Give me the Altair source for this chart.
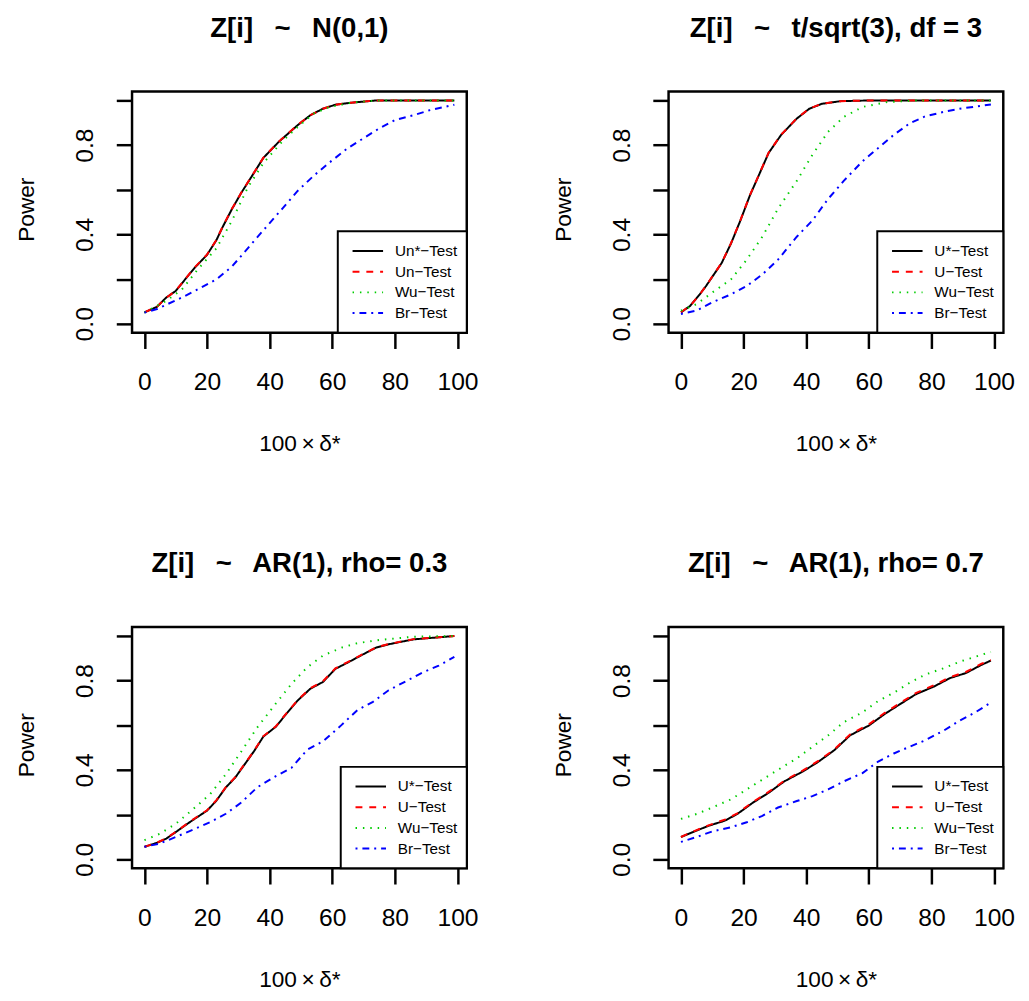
import altair as alt
import pandas as pd

# ---------------- data ----------------
NAMES_P1 = ["Un*\u2212Test", "Un\u2212Test", "Wu\u2212Test", "Br\u2212Test"]
NAMES = ["U*\u2212Test", "U\u2212Test", "Wu\u2212Test", "Br\u2212Test"]
COLORS = ["#000000", "#FF0000", "#00CD00", "#0000FF"]
DASHES = [[1, 0], [7, 7], [1.5, 6], [2, 5, 7, 5]]

SP = "\u2002 "
TITLES = ["Z[i]" + SP + "~" + SP + "N(0,1)",
          "Z[i]" + SP + "~" + SP + "t/sqrt(3), df = 3",
          "Z[i]" + SP + "~" + SP + "AR(1), rho= 0.3",
          "Z[i]" + SP + "~" + SP + "AR(1), rho= 0.7"]
X_TITLE = "100\u2009\u00d7\u2009\u03b4*"
Y_TITLE = "Power"

# Panel 1: N(0,1)
p1_x_star = [0, 4, 7, 10, 13, 16, 20, 23, 25, 28, 31, 35, 38, 43, 46, 49, 53, 57, 61, 66, 74, 99]
p1_y_star = [0.051, 0.076, 0.118, 0.147, 0.199, 0.25, 0.309, 0.375, 0.434, 0.515, 0.588, 0.676,
             0.743, 0.816, 0.853, 0.89, 0.934, 0.963, 0.981, 0.99, 1.0, 1.0]
p1_x_u = [0, 4, 7, 10, 13, 16, 20, 23, 25, 28, 31, 35, 38, 43, 46, 49, 53, 57, 61, 66, 74, 99]
p1_y_u = [0.051, 0.077, 0.117, 0.148, 0.2, 0.252, 0.31, 0.376, 0.436, 0.516, 0.589, 0.677,
          0.744, 0.817, 0.854, 0.891, 0.934, 0.963, 0.981, 0.99, 1.0, 1.0]
p1_x_wu = [0, 7, 12, 17, 23, 28, 33, 38, 44, 49, 54, 59, 66, 74, 99]
p1_y_wu = [0.05, 0.103, 0.154, 0.243, 0.338, 0.463, 0.61, 0.72, 0.816, 0.882, 0.941, 0.97, 0.99, 1.0, 1.0]
p1_x_br = [0, 4, 12, 17, 23, 28, 33, 38, 44, 49, 54, 59, 65, 70, 75, 80, 86, 91, 99]
p1_y_br = [0.05, 0.066, 0.118, 0.154, 0.199, 0.257, 0.338, 0.419, 0.515, 0.596, 0.662, 0.721,
           0.787, 0.831, 0.875, 0.912, 0.934, 0.956, 0.981]

# Panel 2: t/sqrt(3)
p2_x_star = [0, 3, 6, 8, 13, 16, 19, 22, 25, 28, 32, 37, 41, 45, 51, 60, 99]
p2_y_star = [0.051, 0.081, 0.132, 0.169, 0.272, 0.36, 0.463, 0.574, 0.669, 0.765, 0.846, 0.919,
             0.963, 0.985, 0.997, 1.0, 1.0]
p2_x_u = [0, 3, 6, 8, 13, 16, 19, 22, 25, 28, 32, 37, 41, 45, 51, 60, 99]
p2_y_u = [0.052, 0.082, 0.131, 0.17, 0.273, 0.361, 0.464, 0.575, 0.67, 0.766, 0.847, 0.92,
          0.964, 0.985, 0.997, 1.0, 1.0]
p2_x_wu = [0, 5, 10, 16, 21, 26, 31, 37, 42, 47, 52, 58, 66, 75, 99]
p2_y_wu = [0.059, 0.088, 0.14, 0.199, 0.287, 0.39, 0.515, 0.64, 0.757, 0.86, 0.926, 0.971, 0.993, 1.0, 1.0]
p2_x_br = [0, 5, 10, 16, 21, 26, 31, 37, 42, 47, 52, 58, 63, 68, 73, 78, 84, 89, 99]
p2_y_br = [0.044, 0.059, 0.096, 0.132, 0.169, 0.221, 0.287, 0.39, 0.463, 0.559, 0.64, 0.728,
           0.787, 0.846, 0.897, 0.929, 0.949, 0.963, 0.982]

# Panel 3: AR(1), rho = 0.3
p3_x_star = [0, 4, 7, 10, 13, 16, 20, 23, 26, 29, 32, 35, 38, 42, 45, 49, 53, 57, 61, 66, 70, 74, 78, 86, 99]
p3_y_star = [0.056, 0.074, 0.093, 0.122, 0.152, 0.181, 0.218, 0.263, 0.322, 0.366, 0.425, 0.484,
             0.55, 0.594, 0.646, 0.712, 0.764, 0.794, 0.853, 0.889, 0.919, 0.948, 0.963, 0.985, 1.0]
p3_x_u = [0, 4, 7, 10, 13, 16, 20, 23, 26, 29, 32, 35, 38, 42, 45, 49, 53, 57, 61, 66, 70, 74, 78, 86, 99]
p3_y_u = [0.056, 0.075, 0.094, 0.123, 0.153, 0.183, 0.22, 0.265, 0.323, 0.368, 0.427, 0.486,
          0.552, 0.596, 0.648, 0.714, 0.766, 0.797, 0.855, 0.891, 0.92, 0.949, 0.964, 0.986, 1.0]
p3_x_wu = [0, 5, 10, 15, 21, 26, 31, 36, 42, 47, 52, 57, 63, 68, 75, 86, 99]
p3_y_wu = [0.086, 0.115, 0.159, 0.218, 0.292, 0.381, 0.484, 0.59, 0.698, 0.786, 0.86, 0.912,
           0.948, 0.968, 0.982, 0.997, 1.0]
p3_x_br = [0, 5, 10, 15, 21, 26, 31, 36, 42, 47, 52, 57, 63, 68, 73, 78, 84, 89, 94, 99]
p3_y_br = [0.056, 0.071, 0.1, 0.13, 0.167, 0.204, 0.255, 0.322, 0.373, 0.41, 0.491, 0.528,
           0.602, 0.668, 0.705, 0.757, 0.801, 0.838, 0.867, 0.907]

# Panel 4: AR(1), rho = 0.7
p4_x_star = [0, 5, 9, 14, 18, 23, 28, 33, 39, 44, 49, 54, 60, 65, 70, 75, 81, 86, 91, 96, 99]
p4_y_star = [0.1, 0.129, 0.151, 0.173, 0.203, 0.254, 0.298, 0.349, 0.394, 0.438, 0.489, 0.555,
             0.599, 0.65, 0.695, 0.739, 0.775, 0.812, 0.834, 0.871, 0.89]
p4_x_u = [0, 5, 9, 14, 18, 23, 28, 33, 39, 44, 49, 54, 60, 65, 70, 75, 81, 86, 91, 96, 99]
p4_y_u = [0.1, 0.131, 0.153, 0.178, 0.206, 0.257, 0.302, 0.352, 0.398, 0.442, 0.492, 0.559,
          0.604, 0.655, 0.7, 0.744, 0.781, 0.816, 0.839, 0.876, 0.892]
p4_x_wu = [0, 5, 10, 16, 21, 26, 31, 37, 42, 47, 52, 58, 63, 68, 73, 78, 84, 89, 94, 99]
p4_y_wu = [0.181, 0.203, 0.232, 0.269, 0.313, 0.357, 0.401, 0.452, 0.504, 0.555, 0.614, 0.658,
           0.709, 0.746, 0.79, 0.827, 0.856, 0.885, 0.907, 0.929]
p4_x_br = [0, 5, 10, 16, 21, 26, 31, 37, 42, 47, 52, 58, 63, 68, 73, 78, 84, 89, 94, 99]
p4_y_br = [0.078, 0.1, 0.125, 0.144, 0.166, 0.195, 0.232, 0.261, 0.283, 0.313, 0.349, 0.386,
           0.438, 0.474, 0.504, 0.533, 0.577, 0.621, 0.658, 0.702]

X_TICKS = [0, 20, 40, 60, 80, 100]
Y_TICKS = [0.0, 0.2, 0.4, 0.6, 0.8, 1.0]

FONT = "Liberation Sans"
W, H = 340, 245


def panel(title, names, xs, ys):
    rows = []
    for name, xv, yv in zip(names, xs, ys):
        for a, b in zip(xv, yv):
            rows.append({"series": name, "x": a, "y": b})
    df = pd.DataFrame(rows)

    leg = alt.Legend(
        title=None, orient="bottom-right", offset=0, padding=9.5,
        strokeColor="black", fillColor="white",
        symbolType="stroke", symbolSize=961, symbolStrokeWidth=2,
        clipHeight=21, rowPadding=0, symbolOffset=4.5, labelOffset=11,
        labelFontSize=15.5, labelFont=FONT, labelColor="black",
    )
    color = alt.Color("series:N", scale=alt.Scale(domain=names, range=COLORS), legend=leg)
    dash = alt.StrokeDash("series:N", scale=alt.Scale(domain=names, range=DASHES), legend=leg)

    xenc = alt.X("x:Q", scale=alt.Scale(domain=[-3.96, 102.96], nice=False, zero=False),
                 axis=alt.Axis(values=X_TICKS, title=X_TITLE, grid=False, domain=False,
                               tickSize=16, tickWidth=2.5, tickColor="black",
                               labelFontSize=25, labelFont=FONT, labelColor="black",
                               labelBaseline="alphabetic", labelPadding=42, labelFlush=False,
                               labelOverlap=False,
                               titleFontSize=23, titleFont=FONT, titleFontWeight="normal",
                               titleColor="black", titleBaseline="alphabetic",
                               titleX=W / 2, titleY=120, titleAlign="center"))
    yenc = alt.Y("y:Q", scale=alt.Scale(domain=[-0.04, 1.04], nice=False, zero=False),
                 axis=alt.Axis(values=Y_TICKS, title=Y_TITLE, grid=False, domain=False,
                               tickSize=16, tickWidth=2.5, tickColor="black",
                               labelExpr="(abs(datum.value) < 0.001 || abs(datum.value - 0.4) < 0.001 || abs(datum.value - 0.8) < 0.001) ? format(datum.value, '.1f') : ''",
                               labelFontSize=25, labelFont=FONT, labelColor="black",
                               labelAngle=270, labelAlign="center", labelBaseline="alphabetic",
                               labelPadding=24, labelFlush=False, labelOverlap=False,
                               titleFontSize=23, titleFont=FONT, titleFontWeight="normal",
                               titleColor="black", titleAngle=270, titleBaseline="alphabetic",
                               titleX=-100, titleY=H / 2 - 3, titleAlign="center"))

    base = alt.Chart(df).encode(x=xenc, y=yenc, color=color, strokeDash=dash)
    layers = [base.transform_filter(alt.datum.series == n).mark_line(strokeWidth=2)
              for n in names]
    return alt.layer(*layers).properties(
        width=W, height=H,
        title=alt.TitleParams(title, fontSize=28, font=FONT, fontWeight="bold", color="black",
                              anchor="middle", frame="group", offset=27.5, baseline="alphabetic"),
    )


p1 = panel(TITLES[0], NAMES_P1, [p1_x_star, p1_x_u, p1_x_wu, p1_x_br],
           [p1_y_star, p1_y_u, p1_y_wu, p1_y_br])
p2 = panel(TITLES[1], NAMES, [p2_x_star, p2_x_u, p2_x_wu, p2_x_br],
           [p2_y_star, p2_y_u, p2_y_wu, p2_y_br])
p3 = panel(TITLES[2], NAMES, [p3_x_star, p3_x_u, p3_x_wu, p3_x_br],
           [p3_y_star, p3_y_u, p3_y_wu, p3_y_br])
p4 = panel(TITLES[3], NAMES, [p4_x_star, p4_x_u, p4_x_wu, p4_x_br],
           [p4_y_star, p4_y_u, p4_y_wu, p4_y_br])

ind = dict(color="independent", strokeDash="independent", x="independent", y="independent")
chart = (
    alt.concat(p1, p2, p3, p4, columns=2, spacing={"row": 299, "column": 205}, bounds="flush")
    .resolve_scale(**ind)
    .properties(padding={"left": 6, "top": -2, "right": 5, "bottom": 2}, background="white")
    .configure_view(stroke="black", strokeWidth=2.5)
    .configure_legend(strokeWidth=2)
)

chart.save("out.html", embed_options={"renderer": "svg", "actions": False})
